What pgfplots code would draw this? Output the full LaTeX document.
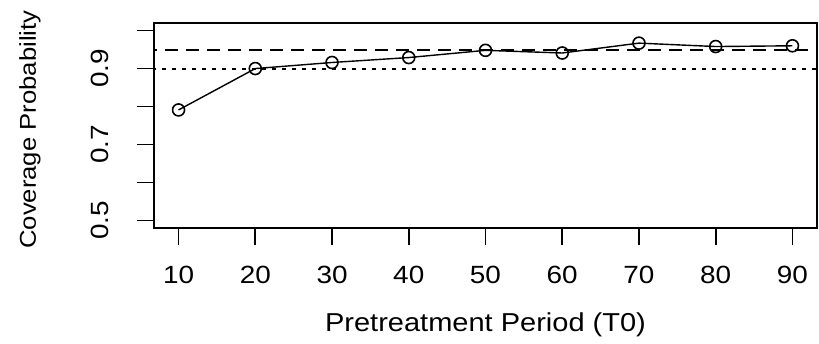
\documentclass[border=0pt]{standalone}
\usepackage{fontspec}
\setmainfont{Liberation Sans}[FakeStretch=1.12]
\usepackage{pgfplots}
\pgfplotsset{compat=1.18}
\begin{document}
\begin{tikzpicture}
\useasboundingbox (-154bp,-116bp) rectangle (665bp,228bp);
\begin{axis}[
  at={(0,0)}, anchor=south west,
  scale only axis, width=663bp, height=205bp,
  xmin=6.8, xmax=93.2, ymin=0.48, ymax=1.02,
  axis line style={line width=1.9bp},
  tick align=outside, major tick length=17bp,
  every tick/.style={black, line width=1.7bp},
  xtick={10,20,30,40,50,60,70,80,90},
  ytick={0.5,0.6,0.7,0.8,0.9,1.0},
  yticklabels={0.5,,0.7,,0.9,},
  xtick pos=bottom, ytick pos=left,
  /pgf/number format/assume math mode=true,
  ticklabel style={font=\fontsize{25}{29}\selectfont},
  xticklabel style={anchor=center, yshift=-30bp},
  yticklabel style={xshift=-37bp, rotate=90, anchor=center},
  xlabel={Pretreatment Period (T0)},
  ylabel={Coverage Probability},
  xlabel style={font=\fontsize{26}{30}\selectfont, at={(axis description cs:0.5,-0.473)}, anchor=center},
  ylabel style={font=\fontsize{23}{27}\selectfont, at={(axis description cs:-0.187,0.48)}, anchor=center},
]
\addplot[black, line width=2bp, dash pattern=on 13bp off 8bp, forget plot] coordinates {(0,0.95) (100,0.95)};
\addplot[black, line width=2bp, dash pattern=on 4bp off 6bp, forget plot] coordinates {(0,0.9) (100,0.9)};
\addplot[black, line width=1.4bp, mark=o, mark size=6bp, mark options={line width=1.6bp, solid}] coordinates {
(10,0.791) (20,0.900) (30,0.916) (40,0.929) (50,0.948) (60,0.941) (70,0.967) (80,0.958) (90,0.960)
};
\end{axis}
\end{tikzpicture}
\end{document}
